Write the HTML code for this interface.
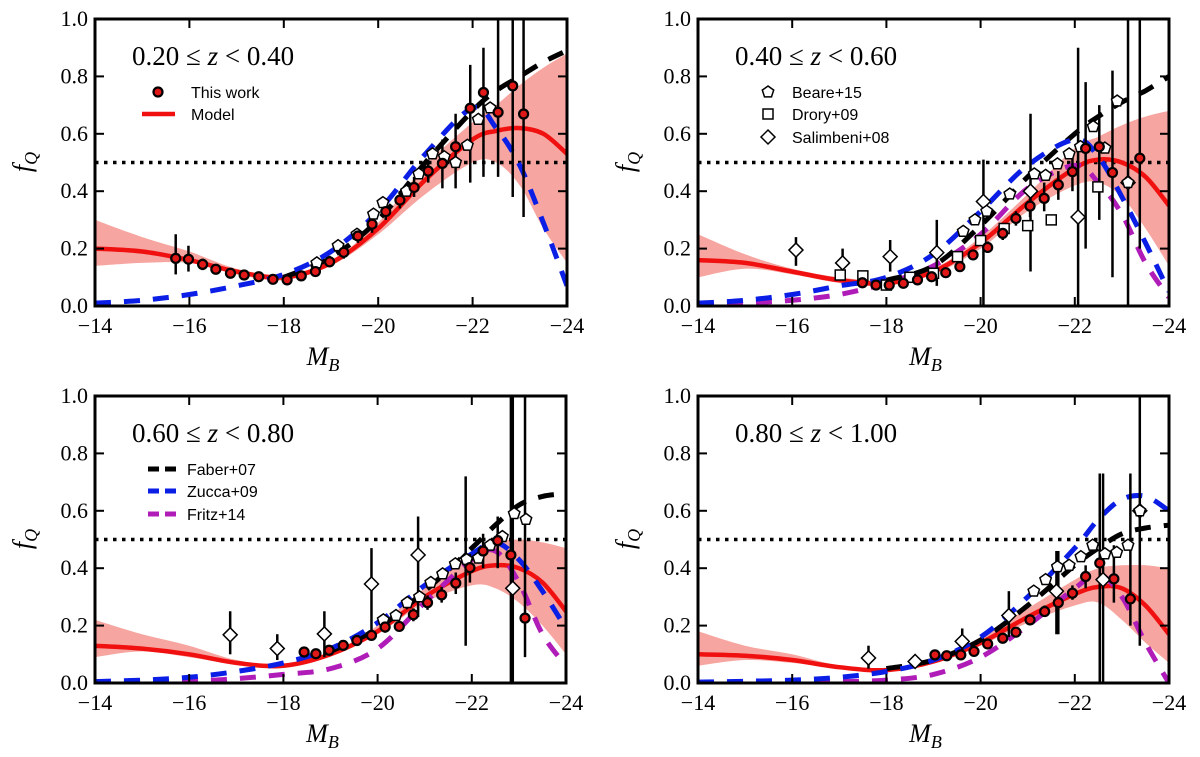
<!DOCTYPE html>
<html><head><meta charset="utf-8">
<style>
html,body{margin:0;padding:0;background:#fff;}
svg{display:block;}
.tick{font-family:"Liberation Serif",serif;font-size:22px;fill:#000;}
.leg{font-family:"Liberation Sans",sans-serif;font-size:16px;fill:#000;}
.ann{font-family:"Liberation Serif",serif;font-size:27px;fill:#000;}
.axl{font-family:"Liberation Serif",serif;font-size:26px;font-style:italic;fill:#000;}
</style></head>
<body>
<svg id="fig" width="1200" height="757" viewBox="0 0 1200 757" xmlns="http://www.w3.org/2000/svg"></svg>
<script>
// shared magnitude grid for curves
const gridM = [-14,-15,-16,-17,-18,-19,-20,-21,-22,-22.5,-23,-23.5,-24];
const xTicks = [-14,-16,-18,-20,-22,-24];
const xTickLabels = ["\u221214","\u221216","\u221218","\u221220","\u221222","\u221224"];
const yTicks = [0,0.2,0.4,0.6,0.8,1.0];
const yTickLabels = ["0.0","0.2","0.4","0.6","0.8","1.0"];
const panelLow = ["0.20","0.40","0.60","0.80"];
const panelHigh = ["0.40","0.60","0.80","1.00"];

// ---- panel 1 ----
const p1Model = [0.20,0.19,0.16,0.12,0.10,0.15,0.27,0.44,0.58,0.61,0.62,0.60,0.53];
const p1Lo    = [0.14,0.15,0.15,0.11,0.09,0.14,0.25,0.39,0.50,0.50,0.42,0.27,0.15];
const p1Hi    = [0.30,0.24,0.19,0.13,0.11,0.16,0.29,0.49,0.64,0.70,0.77,0.83,0.88];
const p1Faber = [null,null,null,null,0.10,0.17,0.30,0.50,0.68,0.75,0.80,0.85,0.89];
const p1Zucca = [0.01,0.02,0.04,0.07,0.11,0.19,0.33,0.53,0.69,0.62,0.49,0.29,0.07];
const p1Fritz = [];
const p1WorkM = [-15.71,-15.98,-16.28,-16.56,-16.87,-17.16,-17.47,-17.77,-18.07,-18.37,-18.67,-18.97,-19.27,-19.57,-19.87,-20.16,-20.46,-20.76,-21.06,-21.36,-21.64,-21.95,-22.23,-22.54,-22.85,-23.08];
const p1WorkF = [0.166,0.163,0.145,0.128,0.114,0.108,0.102,0.093,0.091,0.105,0.12,0.154,0.187,0.244,0.285,0.329,0.369,0.413,0.47,0.497,0.555,0.689,0.744,0.675,0.767,0.669];
const p1WorkLo= [0.11,0.12,0.125,0.115,0.10,0.095,0.09,0.08,0.08,0.09,0.105,0.135,0.165,0.22,0.255,0.30,0.34,0.38,0.43,0.41,0.41,0.43,0.45,0.45,0.38,0.31];
const p1WorkHi= [0.25,0.21,0.165,0.14,0.128,0.12,0.115,0.105,0.10,0.12,0.135,0.175,0.21,0.27,0.315,0.36,0.40,0.45,0.51,0.58,0.67,0.84,0.90,1.05,1.05,1.05];
const p1BeareM = [-18.7,-19.15,-19.55,-19.9,-20.1,-20.6,-20.86,-21.15,-21.4,-21.64,-21.89,-22.12,-22.37];
const p1BeareF = [0.15,0.21,0.25,0.32,0.36,0.40,0.46,0.53,0.52,0.50,0.56,0.65,0.69];
const p1DroryM = [], p1DroryF = [];
const p1SalM = [], p1SalF = [], p1SalLo = [], p1SalHi = [];

// ---- panel 2 ----
const p2Model = [0.16,0.15,0.12,0.09,0.08,0.12,0.22,0.36,0.48,0.51,0.50,0.45,0.35];
const p2Lo    = [0.10,0.13,0.11,0.08,0.07,0.11,0.20,0.33,0.42,0.43,0.38,0.27,0.14];
const p2Hi    = [0.25,0.18,0.13,0.10,0.09,0.13,0.24,0.39,0.55,0.59,0.63,0.66,0.68];
const p2Faber = [null,null,null,null,0.09,0.14,0.28,0.45,0.60,0.66,0.71,0.75,0.80];
const p2Zucca = [0.01,0.02,0.04,0.07,0.10,0.18,0.33,0.49,0.58,0.52,0.38,0.22,0.05];
const p2Fritz = [0.005,0.01,0.02,0.04,0.08,0.14,0.25,0.41,0.49,0.43,0.32,0.15,0.03];
const p2WorkM = [-17.49,-17.78,-18.06,-18.36,-18.66,-18.96,-19.26,-19.56,-19.84,-20.15,-20.47,-20.75,-21.05,-21.35,-21.65,-21.95,-22.23,-22.52,-22.8,-23.38];
const p2WorkF = [0.081,0.073,0.073,0.079,0.091,0.102,0.116,0.137,0.178,0.204,0.253,0.305,0.348,0.375,0.422,0.468,0.549,0.555,0.465,0.515];
const p2WorkLo= [0.07,0.065,0.065,0.07,0.08,0.09,0.10,0.12,0.16,0.185,0.23,0.28,0.31,0.33,0.37,0.40,0.20,0.30,0.10,0.20];
const p2WorkHi= [0.09,0.082,0.082,0.088,0.10,0.115,0.13,0.155,0.195,0.225,0.28,0.33,0.39,0.43,0.47,0.54,0.78,0.70,0.82,1.05];
const p2BeareM = [-19.63,-19.88,-20.13,-20.62,-21.14,-21.38,-21.63,-21.88,-22.12,-22.39,-22.64,-22.9,-23.13];
const p2BeareF = [0.26,0.30,0.33,0.39,0.46,0.455,0.495,0.53,0.555,0.625,0.55,0.714,0.43];
const p2DroryM = [-17.02,-17.5,-18.0,-18.5,-19.0,-19.51,-20.0,-20.5,-21.0,-21.5,-22.49];
const p2DroryF = [0.108,0.105,0.073,0.10,0.114,0.172,0.228,0.27,0.28,0.30,0.415];
const p2SalM = [-16.08,-17.07,-18.08,-19.07,-20.06,-21.06,-22.07,-23.13];
const p2SalF = [0.195,0.15,0.172,0.186,0.364,0.40,0.31,0.43];
const p2SalLo= [0.14,0.10,0.12,0.07,0.0,0.12,0.0,0.0];
const p2SalHi= [0.24,0.20,0.23,0.30,0.51,0.67,0.90,1.05];

// ---- panel 3 ----
const p3Model = [0.13,0.12,0.10,0.07,0.06,0.10,0.18,0.30,0.39,0.41,0.40,0.35,0.25];
const p3Lo    = [0.09,0.11,0.09,0.065,0.055,0.095,0.17,0.28,0.34,0.33,0.28,0.20,0.10];
const p3Hi    = [0.22,0.17,0.13,0.08,0.065,0.105,0.20,0.33,0.45,0.49,0.50,0.49,0.47];
const p3Faber = [null,null,null,null,null,0.11,0.19,0.32,0.47,0.55,0.62,0.65,0.66];
const p3Zucca = [0.005,0.01,0.02,0.04,0.07,0.12,0.21,0.34,0.45,0.49,0.43,0.32,0.19];
const p3Fritz = [0.003,0.004,0.006,0.015,0.03,0.05,0.12,0.28,0.43,0.46,0.35,0.17,0.06];
const p3WorkM = [-18.44,-18.69,-18.97,-19.27,-19.56,-19.87,-20.16,-20.46,-20.76,-21.06,-21.36,-21.66,-21.96,-22.24,-22.55,-22.83,-23.13];
const p3WorkF = [0.108,0.102,0.114,0.131,0.148,0.166,0.195,0.197,0.238,0.28,0.307,0.348,0.402,0.46,0.496,0.446,0.226];
const p3WorkLo= [0.095,0.09,0.10,0.115,0.13,0.15,0.175,0.18,0.215,0.255,0.28,0.31,0.35,0.40,0.40,0.0,0.09];
const p3WorkHi= [0.12,0.115,0.13,0.145,0.165,0.18,0.215,0.215,0.26,0.305,0.335,0.385,0.45,0.52,0.58,1.05,1.05];
const p3BeareM = [-20.12,-20.39,-20.63,-20.89,-21.13,-21.38,-21.65,-21.89,-22.14,-22.39,-22.65,-22.9,-23.15];
const p3BeareF = [0.22,0.235,0.28,0.30,0.35,0.38,0.415,0.43,0.435,0.48,0.51,0.59,0.57];
const p3DroryM = [], p3DroryF = [];
const p3SalM = [-16.87,-17.87,-18.87,-19.87,-20.86,-21.87,-22.87];
const p3SalF = [0.168,0.12,0.171,0.345,0.446,0.43,0.33];
const p3SalLo= [0.10,0.08,0.09,0.18,0.23,0.13,0.0];
const p3SalHi= [0.25,0.17,0.25,0.47,0.58,0.72,1.05];

// ---- panel 4 ----
const p4Model = [0.10,0.095,0.08,0.055,0.045,0.075,0.14,0.23,0.31,0.335,0.33,0.27,0.17];
const p4Lo    = [0.06,0.08,0.07,0.05,0.04,0.07,0.13,0.21,0.27,0.28,0.22,0.14,0.07];
const p4Hi    = [0.18,0.13,0.10,0.06,0.05,0.08,0.16,0.26,0.36,0.40,0.41,0.41,0.40];
const p4Faber = [null,null,null,null,0.05,0.08,0.15,0.27,0.41,0.47,0.52,0.54,0.55];
const p4Zucca = [0.003,0.006,0.01,0.02,0.04,0.08,0.16,0.30,0.47,0.57,0.64,0.65,0.60];
const p4Fritz = [0.002,0.003,0.004,0.005,0.01,0.03,0.09,0.20,0.33,0.38,0.30,0.14,0.0];
const p4WorkM = [-19.03,-19.28,-19.58,-19.86,-20.15,-20.47,-20.75,-21.05,-21.36,-21.65,-21.95,-22.23,-22.53,-22.83,-23.18];
const p4WorkF = [0.098,0.095,0.098,0.11,0.136,0.156,0.177,0.22,0.249,0.28,0.313,0.371,0.418,0.363,0.293];
const p4WorkLo= [0.085,0.085,0.088,0.10,0.125,0.145,0.165,0.205,0.23,0.17,0.29,0.33,0.0,0.28,0.20];
const p4WorkHi= [0.11,0.105,0.11,0.12,0.148,0.168,0.19,0.235,0.27,0.46,0.34,0.41,0.73,0.48,0.73];
const p4BeareM = [-21.13,-21.38,-21.63,-21.88,-22.13,-22.38,-22.64,-22.89,-23.13,-23.38];
const p4BeareF = [0.32,0.36,0.405,0.41,0.44,0.48,0.45,0.455,0.48,0.60];
const p4DroryM = [], p4DroryF = [];
const p4SalM = [-17.62,-18.61,-19.61,-20.6,-21.61,-22.6,-23.38];
const p4SalF = [0.087,0.075,0.145,0.235,0.32,0.36,0.60];
const p4SalLo= [0.05,0.065,0.11,0.16,0.17,0.0,0.13];
const p4SalHi= [0.13,0.085,0.19,0.32,0.46,0.73,1.05];

const NS="http://www.w3.org/2000/svg";
const fig=document.getElementById('fig');
function mk(tag,attrs,parent){const e=document.createElementNS(NS,tag);for(const k in attrs)e.setAttribute(k,attrs[k]);(parent||fig).appendChild(e);return e;}

function smoothPath(pts){
  if(pts.length<2)return '';
  let d='M'+pts[0][0].toFixed(1)+','+pts[0][1].toFixed(1);
  for(let i=0;i<pts.length-1;i++){
    const p0=pts[Math.max(i-1,0)],p1=pts[i],p2=pts[i+1],p3=pts[Math.min(i+2,pts.length-1)];
    const c1=[p1[0]+(p2[0]-p0[0])/6,p1[1]+(p2[1]-p0[1])/6];
    const c2=[p2[0]-(p3[0]-p1[0])/6,p2[1]-(p3[1]-p1[1])/6];
    d+='C'+c1[0].toFixed(1)+','+c1[1].toFixed(1)+' '+c2[0].toFixed(1)+','+c2[1].toFixed(1)+' '+p2[0].toFixed(1)+','+p2[1].toFixed(1);
  }
  return d;
}

const panels=[
 {x0:95,y0:19,w:472,h:287,model:p1Model,lo:p1Lo,hi:p1Hi,faber:p1Faber,zucca:p1Zucca,fritz:p1Fritz,wm:p1WorkM,wf:p1WorkF,wlo:p1WorkLo,whi:p1WorkHi,bm:p1BeareM,bf:p1BeareF,dm:p1DroryM,df:p1DroryF,sm:p1SalM,sf:p1SalF,slo:p1SalLo,shi:p1SalHi},
 {x0:698,y0:19,w:471,h:287,model:p2Model,lo:p2Lo,hi:p2Hi,faber:p2Faber,zucca:p2Zucca,fritz:p2Fritz,wm:p2WorkM,wf:p2WorkF,wlo:p2WorkLo,whi:p2WorkHi,bm:p2BeareM,bf:p2BeareF,dm:p2DroryM,df:p2DroryF,sm:p2SalM,sf:p2SalF,slo:p2SalLo,shi:p2SalHi},
 {x0:95,y0:396,w:471,h:287,model:p3Model,lo:p3Lo,hi:p3Hi,faber:p3Faber,zucca:p3Zucca,fritz:p3Fritz,wm:p3WorkM,wf:p3WorkF,wlo:p3WorkLo,whi:p3WorkHi,bm:p3BeareM,bf:p3BeareF,dm:p3DroryM,df:p3DroryF,sm:p3SalM,sf:p3SalF,slo:p3SalLo,shi:p3SalHi},
 {x0:698,y0:396,w:471,h:287,model:p4Model,lo:p4Lo,hi:p4Hi,faber:p4Faber,zucca:p4Zucca,fritz:p4Fritz,wm:p4WorkM,wf:p4WorkF,wlo:p4WorkLo,whi:p4WorkHi,bm:p4BeareM,bf:p4BeareF,dm:p4DroryM,df:p4DroryF,sm:p4SalM,sf:p4SalF,slo:p4SalLo,shi:p4SalHi}
];

function pentagon(cx,cy,r){let s='';for(let k=0;k<5;k++){const a=-Math.PI/2+k*2*Math.PI/5;s+=(cx+r*Math.cos(a)).toFixed(1)+','+(cy+r*Math.sin(a)).toFixed(1)+' ';}return s;}

panels.forEach((P,pi)=>{
  const X=m=>P.x0+(-14-m)/10*P.w;
  const Y=f=>P.y0+P.h-f*P.h;
  const g=mk('g',{});
  
  
  const cp=mk('clipPath',{id:'clip'+pi},g);
  mk('rect',{x:P.x0,y:P.y0,width:P.w,height:P.h},cp);
  const plot=mk('g',{'clip-path':'url(#clip'+pi+')'},g);

  const up=gridM.map((m,i)=>[X(m),Y(P.hi[i])]);
  const dn=gridM.map((m,i)=>[X(m),Y(P.lo[i])]).reverse();
  const band=mk('path',{d:smoothPath(up)+smoothPath(dn).replace('M','L')+'Z',fill:'#f7a5a0',stroke:'none'},plot);
  
  

  const dl=mk('line',{x1:P.x0,x2:P.x0+P.w,y1:Y(0.5),y2:Y(0.5),stroke:'#000','stroke-width':3.5,'stroke-dasharray':'3.5,5.5'},plot);
  
  

  const ml=mk('path',{d:smoothPath(gridM.map((m,i)=>[X(m),Y(P.model[i])])),fill:'none',stroke:'#f01010','stroke-width':4.5},plot);
  
  

  const dash=(arr,col,name)=>{
    const pts=[];gridM.forEach((m,i)=>{if(arr[i]!==null&&arr[i]!==undefined)pts.push([X(m),Y(arr[i])]);});
    if(pts.length<2)return;
    const e=mk('path',{d:smoothPath(pts),fill:'none',stroke:col,'stroke-width':5,'stroke-dasharray':'16,13'},plot);
    
    
  };
  dash(P.fritz,'#b01cb8','fritz14-curve');
  dash(P.faber,'#000','faber07-curve');
  dash(P.zucca,'#0a1ee6','zucca09-curve');

  P.sm.forEach((m,i)=>{
    const eb=mk('line',{x1:X(m),x2:X(m),y1:Y(P.slo[i]),y2:Y(P.shi[i]),stroke:'#000','stroke-width':2.5},plot);
    
    
  });
  P.wm.forEach((m,i)=>{
    const eb=mk('line',{x1:X(m),x2:X(m),y1:Y(P.wlo[i]),y2:Y(P.whi[i]),stroke:'#000','stroke-width':2.5},plot);
    
    
  });
  P.dm.forEach((m,i)=>{
    const s=mk('rect',{x:X(m)-5,y:Y(P.df[i])-5,width:10,height:10,fill:'#fff',stroke:'#000','stroke-width':1.5},plot);
    
    
  });
  P.sm.forEach((m,i)=>{
    const cx=X(m),cy=Y(P.sf[i]);
    const s=mk('polygon',{points:`${cx},${cy-7} ${cx+7},${cy} ${cx},${cy+7} ${cx-7},${cy}`,fill:'#fff',stroke:'#000','stroke-width':1.5},plot);
    
    
  });
  P.bm.forEach((m,i)=>{
    const s=mk('polygon',{points:pentagon(X(m),Y(P.bf[i]),6),fill:'#fff',stroke:'#000','stroke-width':1.5},plot);
    
    
  });
  P.wm.forEach((m,i)=>{
    const c=mk('circle',{cx:X(m),cy:Y(P.wf[i]),r:4.5,fill:'#e01818',stroke:'#000','stroke-width':2.2},plot);
    
    
  });

  const fr=mk('rect',{x:P.x0,y:P.y0,width:P.w,height:P.h,fill:'none',stroke:'#000','stroke-width':3},g);
  
  
  xTicks.forEach((t,i)=>{
    const x=X(t);
    mk('line',{x1:x,x2:x,y1:P.y0+P.h,y2:P.y0+P.h-9,stroke:'#000','stroke-width':2},g);
    mk('line',{x1:x,x2:x,y1:P.y0,y2:P.y0+9,stroke:'#000','stroke-width':2},g);
    const tx=mk('text',{x:x,y:P.y0+P.h+27,'text-anchor':'middle',class:'tick'},g);
    tx.textContent=xTickLabels[i];
    
    
  });
  yTicks.forEach((t,i)=>{
    const y=Y(t);
    mk('line',{x1:P.x0,x2:P.x0+9,y1:y,y2:y,stroke:'#000','stroke-width':2},g);
    mk('line',{x1:P.x0+P.w,x2:P.x0+P.w-9,y1:y,y2:y,stroke:'#000','stroke-width':2},g);
    const tx=mk('text',{x:P.x0-7,y:y+7,'text-anchor':'end',class:'tick'},g);
    tx.textContent=yTickLabels[i];
    
    
  });
  const xl=mk('text',{x:P.x0+P.w/2-8,y:P.y0+P.h+59,'text-anchor':'middle',class:'axl'},g);
  xl.innerHTML='M<tspan font-size="18" dy="6">B</tspan>';
  
  
  const yl=mk('text',{x:0,y:0,'text-anchor':'middle',class:'axl',transform:`translate(${P.x0-64},${P.y0+143}) rotate(-90)`},g);
  yl.innerHTML='f<tspan font-size="18" dy="6">Q</tspan>';
  
  
  const an=mk('text',{x:P.x0+37,y:P.y0+46,class:'ann'},g);
  an.innerHTML=panelLow[pi]+' \u2264 <tspan font-style="italic">z</tspan> &lt; '+panelHigh[pi];
  
  
});

function legText(x,y,s,name){const t=mk('text',{x:x,y:y,class:'leg'});t.textContent=s;}
let e;
e=mk('circle',{cx:158,cy:92,r:4.5,fill:'#e01818',stroke:'#000','stroke-width':2.2});


legText(191,98,'This work','legend-this-work');
e=mk('line',{x1:142,x2:175,y1:114,y2:114,stroke:'#f01010','stroke-width':4.5});


legText(191,120,'Model','legend-model');

e=mk('polygon',{points:pentagon(768,92,6),fill:'#fff',stroke:'#000','stroke-width':1.5});


legText(792,98,'Beare+15','legend-beare15');
e=mk('rect',{x:763,y:109,width:10,height:10,fill:'#fff',stroke:'#000','stroke-width':1.5});


legText(792,120,'Drory+09','legend-drory09');
e=mk('polygon',{points:'768,130 775,137 768,144 761,137',fill:'#fff',stroke:'#000','stroke-width':1.5});


legText(792,143,'Salimbeni+08','legend-salimbeni08');

[['#000','Faber+07',469],['#0a1ee6','Zucca+09',491],['#b01cb8','Fritz+14',514]].forEach(([c,s,y])=>{
  const l=mk('line',{x1:148,x2:177,y1:y,y2:y,stroke:c,'stroke-width':5,'stroke-dasharray':'11,6'});
  
  
  legText(187,y+6,s,'legend-'+s.toLowerCase().replace('+',''));
});
</script>
</body></html>
